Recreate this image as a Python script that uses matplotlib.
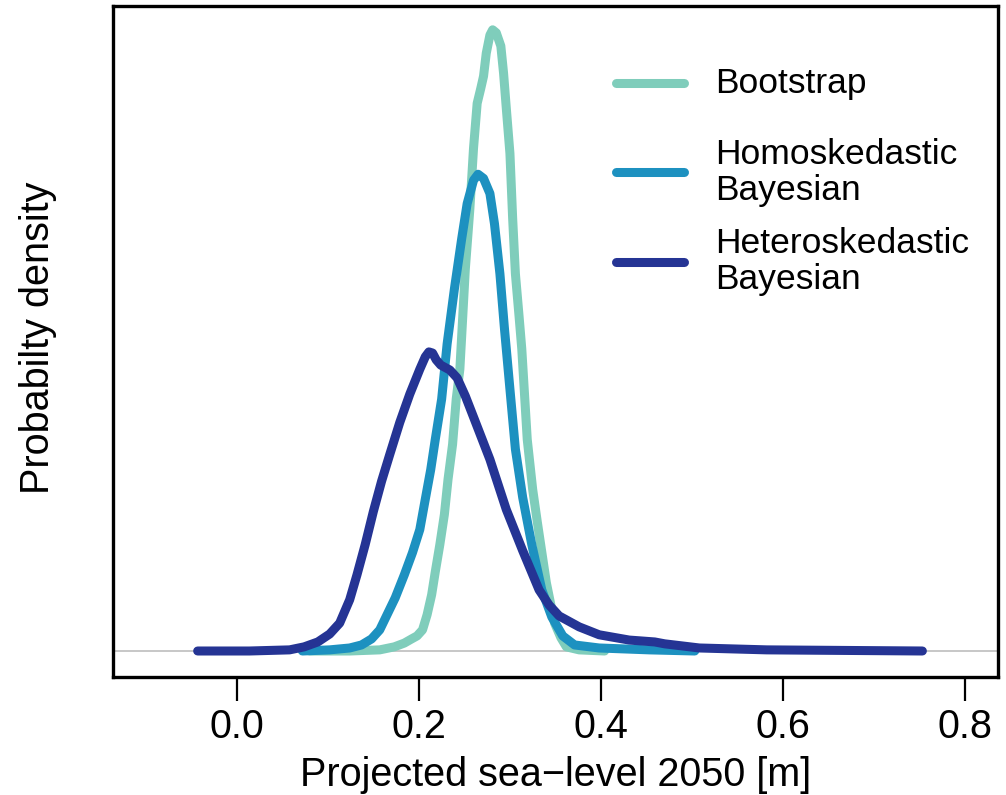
import matplotlib
matplotlib.use("Agg")
import matplotlib.pyplot as plt
import numpy as np

plt.rcParams['font.family'] = ['Liberation Sans', 'DejaVu Sans']

TEAL = '#7FCDBB'  # bootstrap
BLUE = '#1D91C0'  # homoskedastic
NAVY = '#253494'  # heteroskedastic

# density curves: sea level [m] and density
boot_x = [0.080, 0.124, 0.157, 0.173, 0.184, 0.192, 0.198, 0.204, 0.209, 0.214,
          0.218, 0.223, 0.228, 0.232, 0.237, 0.241, 0.245, 0.247, 0.251, 0.256,
          0.260, 0.264, 0.268, 0.271, 0.274, 0.278, 0.281, 0.285, 0.290, 0.293,
          0.296, 0.300, 0.303, 0.306, 0.310, 0.313, 0.316, 0.319, 0.325, 0.330,
          0.340, 0.349, 0.356, 0.362, 0.376, 0.404]
boot_y = [0.0, 0.0, 0.03, 0.11, 0.21, 0.32, 0.40, 0.56, 0.96, 1.49,
          2.10, 2.82, 3.62, 4.55, 5.48, 6.68, 7.47, 8.35, 10.13, 11.73,
          13.33, 14.52, 14.92, 15.24, 15.85, 16.33, 16.47, 16.39, 16.04, 15.32,
          14.39, 13.19, 11.46, 10.00, 8.88, 8.01, 6.81, 5.61, 4.28, 3.43,
          1.81, 0.74, 0.35, 0.11, 0.03, 0.0]

homo_x = [0.072, 0.102, 0.124, 0.137, 0.148, 0.157, 0.165, 0.174, 0.184, 0.193,
          0.201, 0.207, 0.213, 0.218, 0.225, 0.231, 0.239, 0.247, 0.253, 0.260,
          0.265, 0.271, 0.278, 0.283, 0.289, 0.294, 0.300, 0.306, 0.314, 0.324,
          0.335, 0.346, 0.358, 0.371, 0.398, 0.453, 0.503]
homo_y = [0.0, 0.03, 0.08, 0.16, 0.32, 0.56, 0.96, 1.41, 2.02, 2.61,
          3.22, 4.02, 4.81, 5.61, 6.68, 8.14, 9.60, 10.93, 11.86, 12.48,
          12.64, 12.53, 12.13, 11.33, 10.00, 8.54, 6.94, 5.35, 4.07, 2.82,
          1.62, 0.90, 0.40, 0.16, 0.08, 0.03, 0.0]

hetero_x = [-0.043, 0.014, 0.058, 0.074, 0.089, 0.102, 0.113, 0.124, 0.132, 0.141,
            0.150, 0.159, 0.168, 0.179, 0.190, 0.201, 0.207, 0.211, 0.215, 0.219,
            0.224, 0.234, 0.242, 0.251, 0.261, 0.278, 0.296, 0.314, 0.332, 0.343,
            0.354, 0.376, 0.398, 0.431, 0.459, 0.470, 0.508, 0.582, 0.753]
hetero_y = [0.0, 0.0, 0.03, 0.11, 0.24, 0.45, 0.74, 1.36, 2.02, 2.82,
            3.70, 4.50, 5.21, 6.06, 6.81, 7.47, 7.80, 7.93, 7.90, 7.72,
            7.58, 7.45, 7.24, 6.76, 6.14, 5.08, 3.75, 2.66, 1.62, 1.22,
            0.93, 0.64, 0.43, 0.29, 0.24, 0.19, 0.08, 0.03, 0.0]

labels = ['Bootstrap', 'Homoskedastic\nBayesian', 'Heteroskedastic\nBayesian']
xticks = [0.0, 0.2, 0.4, 0.6, 0.8]

fig = plt.figure(figsize=(10.06, 7.95), dpi=100)
ax = fig.add_axes([0.1123, 0.1484, 0.8797, 0.8440])

ax.axhline(0, color='#BEBEBE', lw=1.2, zorder=1)
series = [(boot_x, boot_y, TEAL), (homo_x, homo_y, BLUE), (hetero_x, hetero_y, NAVY)]
for xs, ys, col in series:
    ax.plot(xs, ys, color=col, lw=6.5, solid_capstyle='round',
            solid_joinstyle='round', zorder=2)

ax.set_xlim(-0.136, 0.836)
ax.set_ylim(-0.69, 17.10)
ax.set_xticks(xticks)
ax.set_xticklabels([f'{t:.1f}' for t in xticks])
ax.set_yticks([])
ax.tick_params(axis='x', direction='out', length=17, width=1.6,
               labelsize=28.5, pad=5)
for sp in ax.spines.values():
    sp.set_linewidth(2.4)

ax.set_xlabel('Projected sea\u2212level 2050 [m]', fontsize=28.5)
ax.xaxis.set_label_coords(0.5, -0.117)
fig.text(0.038, 0.575, 'Probabilty density', rotation=90, fontsize=28.5,
         ha='center', va='center')

# legend drawn by hand, R style
leg_y = [0.885, 0.752, 0.619]
for (xs, ys, col), lab, yy in zip(series, labels, leg_y):
    ax.plot([0.568, 0.645], [yy, yy], transform=ax.transAxes, color=col,
            lw=6.5, solid_capstyle='round')
    ax.text(0.680, yy, lab, transform=ax.transAxes, fontsize=25.5,
            ha='left', va='center', linespacing=1.1)

fig.savefig('out.png', dpi=100)
